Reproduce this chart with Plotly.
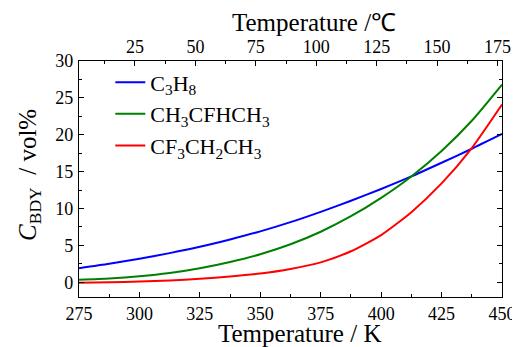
import plotly.graph_objects as go

temperature_K = [275, 287.5, 300, 312.5, 325, 337.5, 350, 362.5, 375, 387.5, 400, 412.5, 425, 437.5, 450]
c3h8 = [1.9, 2.5, 3.2, 3.95, 4.8, 5.8, 6.9, 8.15, 9.55, 11.05, 12.65, 14.35, 16.2, 18.1, 20.1]
ch3cfhch3 = [0.33, 0.5, 0.8, 1.25, 1.9, 2.75, 3.8, 5.15, 6.85, 8.95, 11.45, 14.35, 17.8, 21.9, 26.8]
cf3ch2ch3 = [-0.08, 0.0, 0.1, 0.25, 0.47, 0.78, 1.18, 1.8, 2.7, 4.2, 6.4, 9.5, 13.4, 18.2, 24.1]

series_names = ["C<sub>3</sub>H<sub>8</sub>", "CH<sub>3</sub>CFHCH<sub>3</sub>", "CF<sub>3</sub>CH<sub>2</sub>CH<sub>3</sub>"]
series_values = [c3h8, ch3cfhch3, cf3ch2ch3]
series_colors = ["#0000FF", "#008000", "#FF0000"]

celsius_ticks = [25, 50, 75, 100, 125, 150, 175]
kelvin_ticks = [275, 300, 325, 350, 375, 400, 425, 450]
y_ticks = [0, 5, 10, 15, 20, 25, 30]

x_title = "Temperature / K"
x2_title = "Temperature /℃"
y_title = "<i>C</i><sub>BDY</sub>  / vol%"

FONT = "Liberation Serif"

fig = go.Figure()
for name, vals, col in zip(series_names, series_values, series_colors):
    fig.add_trace(go.Scatter(x=temperature_K, y=vals, mode="lines", name=name,
                             line=dict(color=col, width=2, shape="spline", smoothing=0.6)))

# invisible trace to activate the top Celsius axis
fig.add_trace(go.Scatter(x=[temperature_K[0] - 273.15, temperature_K[-1] - 273.15],
                         y=[None, None], xaxis="x2", mode="lines", showlegend=False,
                         hoverinfo="skip"))

tick_common = dict(ticks="inside", ticklen=5, tickwidth=1, tickcolor="black",
                   showline=True, linecolor="black", linewidth=1.2, showgrid=False,
                   zeroline=False, tickfont=dict(family=FONT, size=18, color="black"))

# the page body adds an 8px offset; size/margins compensate for it
fig.update_layout(
    width=512, height=339,
    margin=dict(l=71, r=18, t=53, b=50, autoexpand=False),
    paper_bgcolor="white", plot_bgcolor="white",
    font=dict(family=FONT, color="black"),
    showlegend=True,
    legend=dict(x=0.074, y=0.998, xanchor="left", yanchor="top",
                bgcolor="rgba(0,0,0,0)", font=dict(family=FONT, size=22),
                tracegroupgap=0),
    xaxis=dict(range=[275, 450], tickvals=kelvin_ticks, mirror=False,
               minor=dict(ticks="inside", ticklen=3, dtick=12.5, tickcolor="black"),
               ticklabelstandoff=0, **tick_common),
    xaxis2=dict(range=[275 - 273.15, 450 - 273.15], overlaying="x", side="top", anchor="y",
                tickvals=celsius_ticks,
                minor=dict(ticks="inside", ticklen=3, dtick=12.5, tick0=0, tickcolor="black"),
                ticklabelstandoff=0, **tick_common),
    yaxis=dict(range=[-2, 30], tickvals=y_ticks, mirror="ticks",
               minor=dict(ticks="inside", ticklen=3, dtick=2.5, tickcolor="black"),
               ticklabelstandoff=1, **tick_common),
    annotations=[
        dict(text=x_title, xref="paper", yref="paper", x=0.522, y=-0.156,
             xanchor="center", yanchor="middle", showarrow=False,
             font=dict(family=FONT, size=25, color="black")),
        dict(text=x2_title, xref="paper", yref="paper", x=0.556, y=1.163,
             xanchor="center", yanchor="middle", showarrow=False,
             font=dict(family=FONT, size=25, color="black")),
        dict(text=y_title, xref="paper", yref="paper", x=-0.116, y=0.517,
             xanchor="center", yanchor="middle", showarrow=False, textangle=-90,
             font=dict(family=FONT, size=25, color="black")),
    ],
)

fig.write_html("out.html")
